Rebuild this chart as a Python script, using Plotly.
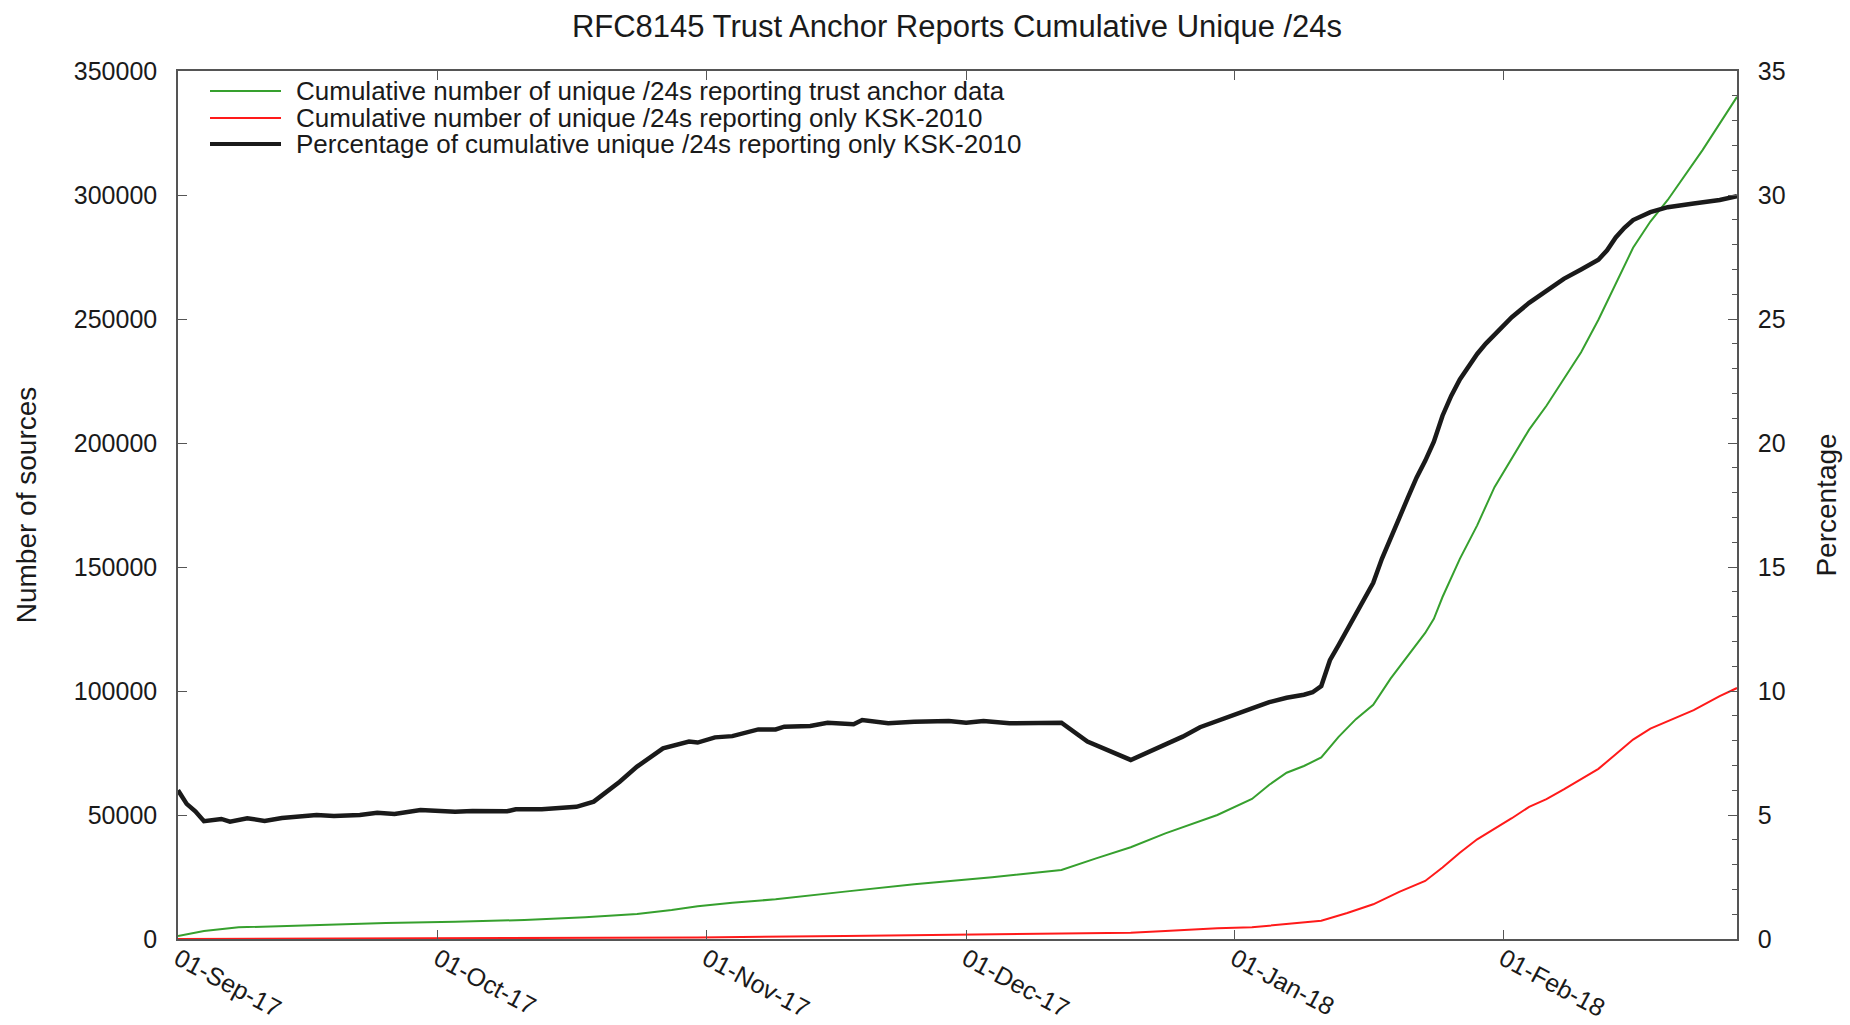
import plotly.graph_objects as go

# ---------------- data ----------------
series_names = [
    "Cumulative number of unique /24s reporting trust anchor data",
    "Cumulative number of unique /24s reporting only KSK-2010",
    "Percentage of cumulative unique /24s reporting only KSK-2010",
]

ta_dates = [
    "2017-09-01", "2017-09-04", "2017-09-08", "2017-09-16", "2017-09-25",
    "2017-10-03", "2017-10-11", "2017-10-18", "2017-10-24", "2017-10-28",
    "2017-10-31", "2017-11-04", "2017-11-09", "2017-11-17", "2017-11-25",
    "2017-12-04", "2017-12-12", "2017-12-16", "2017-12-20", "2017-12-24",
    "2017-12-30", "2018-01-03", "2018-01-05", "2018-01-07", "2018-01-09",
    "2018-01-11", "2018-01-13", "2018-01-15", "2018-01-17", "2018-01-19",
    "2018-01-21", "2018-01-23", "2018-01-24", "2018-01-25", "2018-01-27",
    "2018-01-29", "2018-01-31", "2018-02-02", "2018-02-04", "2018-02-06",
    "2018-02-08", "2018-02-10", "2018-02-12", "2018-02-14", "2018-02-16",
    "2018-02-18", "2018-02-20", "2018-02-24", "2018-02-28",
]
ta_counts = [
    1200, 3200, 4700, 5650, 6450,
    7000, 7650, 8750, 10080, 11700,
    13200, 14650, 16000, 19100, 22050,
    24870, 27800, 32500, 37000, 42600,
    50000, 56450, 62200, 67050, 69750,
    73200, 81500, 88650, 94400, 105000,
    114300, 123400, 129100, 137900, 153300,
    166800, 182200, 193800, 205400, 215000,
    225600, 236600, 249700, 264200, 278700,
    289300, 298000, 318000, 339600,
]

ksk_dates = [
    "2017-09-01", "2017-10-01", "2017-10-31", "2017-11-17", "2017-12-04",
    "2017-12-20", "2017-12-24", "2017-12-30", "2018-01-03", "2018-01-07",
    "2018-01-11", "2018-01-14", "2018-01-17", "2018-01-20", "2018-01-23",
    "2018-01-25", "2018-01-27", "2018-01-29", "2018-01-31", "2018-02-02",
    "2018-02-04", "2018-02-06", "2018-02-08", "2018-02-10", "2018-02-12",
    "2018-02-14", "2018-02-16", "2018-02-18", "2018-02-20", "2018-02-23",
    "2018-02-26", "2018-02-28",
]
ksk_counts = [
    0, 200, 600, 1200, 1900,
    2500, 3200, 4300, 4700, 5900,
    7400, 10500, 14000, 19000, 23400,
    28800, 34800, 40200, 44300, 48700,
    53300, 56400, 60300, 64300, 68600,
    74500, 80400, 84800, 87900, 92300,
    97900, 101200,
]

pct_dates = [
    "2017-09-01", "2017-09-02", "2017-09-03", "2017-09-04", "2017-09-06",
    "2017-09-07", "2017-09-09", "2017-09-11", "2017-09-13", "2017-09-17",
    "2017-09-19", "2017-09-22", "2017-09-24", "2017-09-26", "2017-09-29",
    "2017-10-03", "2017-10-05", "2017-10-09", "2017-10-10", "2017-10-13",
    "2017-10-17", "2017-10-19", "2017-10-22", "2017-10-24", "2017-10-27",
    "2017-10-30", "2017-10-31", "2017-11-02", "2017-11-04", "2017-11-07",
    "2017-11-09", "2017-11-10", "2017-11-13", "2017-11-15", "2017-11-18",
    "2017-11-19", "2017-11-22", "2017-11-25", "2017-11-29", "2017-12-01",
    "2017-12-03", "2017-12-06", "2017-12-12", "2017-12-15", "2017-12-20",
    "2017-12-23", "2017-12-26", "2017-12-28", "2017-12-31", "2018-01-01",
    "2018-01-03", "2018-01-05", "2018-01-07", "2018-01-09", "2018-01-10",
    "2018-01-11", "2018-01-12", "2018-01-13", "2018-01-14", "2018-01-15",
    "2018-01-16", "2018-01-17", "2018-01-18", "2018-01-19", "2018-01-20",
    "2018-01-21", "2018-01-22", "2018-01-23", "2018-01-24", "2018-01-25",
    "2018-01-26", "2018-01-27", "2018-01-28", "2018-01-29", "2018-01-30",
    "2018-01-31", "2018-02-02", "2018-02-04", "2018-02-06", "2018-02-08",
    "2018-02-10", "2018-02-12", "2018-02-13", "2018-02-14", "2018-02-15",
    "2018-02-16", "2018-02-18", "2018-02-20", "2018-02-23", "2018-02-26",
    "2018-02-28",
]
pct_values = [
    6.00, 5.45, 5.15, 4.75, 4.84,
    4.73, 4.87, 4.76, 4.88, 5.00,
    4.96, 5.00, 5.09, 5.04, 5.20,
    5.13, 5.16, 5.15, 5.23, 5.23,
    5.33, 5.54, 6.34, 6.95, 7.69,
    7.96, 7.92, 8.13, 8.18, 8.45,
    8.45, 8.56, 8.59, 8.72, 8.66,
    8.83, 8.70, 8.76, 8.79, 8.72,
    8.79, 8.70, 8.72, 7.96, 7.22,
    7.69, 8.16, 8.54, 8.94, 9.05,
    9.30, 9.55, 9.73, 9.85, 9.95,
    10.20, 11.24, 11.85, 12.47, 13.17,
    13.75, 14.36, 15.33, 16.20, 16.97,
    17.80, 18.60, 19.28, 20.05, 21.10,
    21.90, 22.56, 23.08, 23.59, 24.01,
    24.36, 25.07, 25.65, 26.13, 26.62,
    27.00, 27.39, 27.77, 28.29, 28.68,
    28.99, 29.31, 29.51, 29.66, 29.80,
    29.95,
]

x_range = ["2017-09-01", "2018-02-28"]
month_ticks = ["2017-09-01", "2017-10-01", "2017-11-01",
               "2017-12-01", "2018-01-01", "2018-02-01"]
month_labels = ["01-Sep-17", "01-Oct-17", "01-Nov-17",
                "01-Dec-17", "01-Jan-18", "01-Feb-18"]

# ---------------- styling ----------------
FONT = "Liberation Sans, Arial, Helvetica, sans-serif"
TXT = "#1a1a1a"
AXC = "#555555"
colors = ["#36a02e", "#ff1a1a", "#1a1a1a"]
widths = [2, 2, 4.5]

W, H = 1850, 1025
PL, PR, PT, PB = 178, 1737, 71, 939


def px_x(px):
    return (px - PL) / (PR - PL)


def px_y(py):
    return (PB - py) / (PB - PT)


fig = go.Figure()
fig.add_trace(go.Scatter(x=ta_dates, y=ta_counts, mode="lines", name=series_names[0],
                         line=dict(color=colors[0], width=widths[0]), showlegend=False))
fig.add_trace(go.Scatter(x=ksk_dates, y=ksk_counts, mode="lines", name=series_names[1],
                         line=dict(color=colors[1], width=widths[1]), showlegend=False))
fig.add_trace(go.Scatter(x=pct_dates, y=pct_values, mode="lines", name=series_names[2],
                         line=dict(color=colors[2], width=widths[2]), yaxis="y2",
                         showlegend=False))

# gnuplot-style key inside the plot (long sample lines, tight rows)
shapes = []
annotations = []
rows = [91, 118, 144]
for i, name in enumerate(series_names):
    shapes.append(dict(type="line", xref="paper", yref="paper",
                       x0=px_x(210), x1=px_x(281), y0=px_y(rows[i]), y1=px_y(rows[i]),
                       line=dict(color=colors[i], width=widths[i] if i < 2 else 4)))
    annotations.append(dict(xref="paper", yref="paper", x=px_x(294), y=px_y(rows[i]),
                            xanchor="left", yanchor="middle", showarrow=False,
                            text=name, font=dict(size=26, color=TXT, family=FONT)))

fig.update_layout(
    width=W, height=H,
    margin=dict(l=PL, r=W - PR, t=PT, b=H - PB, pad=0),
    paper_bgcolor="white", plot_bgcolor="white",
    font=dict(family=FONT, size=25, color=TXT),
    title=dict(text="RFC8145 Trust Anchor Reports Cumulative Unique /24s",
               x=px_x(957), xref="paper", xanchor="center",
               y=1 - 26 / H, yref="container", yanchor="middle",
               font=dict(size=31, color=TXT, family=FONT)),
    showlegend=False,
    shapes=shapes,
    annotations=annotations,
    xaxis=dict(
        type="date", range=x_range,
        tickvals=month_ticks, ticktext=month_labels,
        tickangle=28, ticks="inside", ticklen=9, tickcolor=AXC, tickwidth=1,
        showline=True, linecolor=AXC, linewidth=1.5, mirror="ticks",
        showgrid=False, zeroline=False, automargin=False,
        tickfont=dict(size=25, color=TXT), ticklabelstandoff=-6,
    ),
    yaxis=dict(
        range=[0, 350000], dtick=50000, tick0=0, tickformat="d",
        ticks="inside", ticklen=9, tickcolor=AXC, tickwidth=1,
        showline=True, linecolor=AXC, linewidth=1.5, mirror=False,
        showgrid=False, zeroline=False, automargin=False,
        tickfont=dict(size=25, color=TXT), ticklabelstandoff=14,
        title=dict(text="Number of sources", font=dict(size=28, color=TXT), standoff=29),
    ),
    yaxis2=dict(
        overlaying="y", side="right",
        range=[0, 35], dtick=5, tick0=0,
        ticks="inside", ticklen=9, tickcolor=AXC, tickwidth=1,
        minor=dict(dtick=1, ticks="inside", ticklen=5, tickcolor=AXC, tickwidth=1,
                   showgrid=False),
        showline=True, linecolor=AXC, linewidth=1.5,
        showgrid=False, zeroline=False, automargin=False,
        tickfont=dict(size=25, color=TXT), ticklabelstandoff=14,
        title=dict(text="Percentage", font=dict(size=28, color=TXT), standoff=32),
    ),
)

fig.write_html("out.html",
               config={"displayModeBar": False},
               post_script="document.body.style.margin='0';document.body.style.overflow='hidden';")
